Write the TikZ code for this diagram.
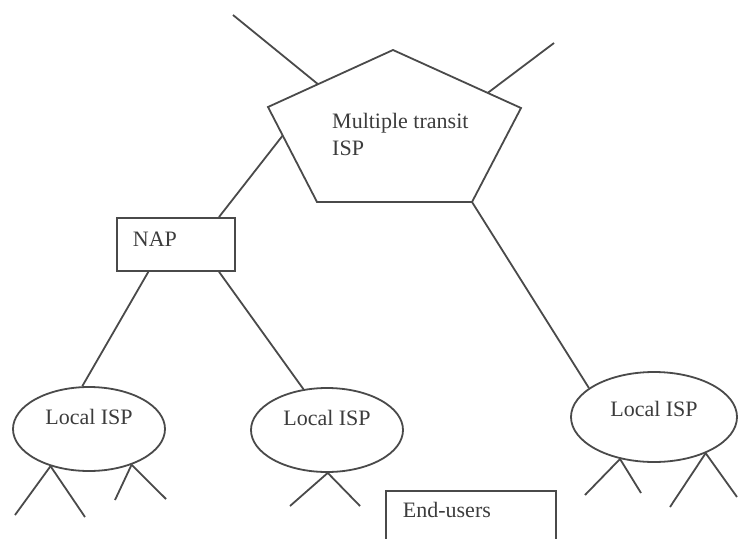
\documentclass[tikz,border=0pt]{standalone}
\usepackage{fontspec}
\setmainfont{Liberation Serif}
\usetikzlibrary{positioning, calc, shapes.geometric}
\definecolor{linegray}{HTML}{4A4A4A}
\definecolor{textgray}{HTML}{3C3C3C}

\begin{document}
\begin{tikzpicture}[x=1pt, y=-1pt, font=\fontsize{22}{27}\selectfont, text=textgray,
  link/.style={draw=linegray, line width=1.8pt},
  isp/.style={ellipse, draw=linegray, line width=1.8pt, inner sep=0pt},
  box/.style={rectangle, draw=linegray, line width=1.8pt, align=left, inner ysep=0pt}]
\clip (0,0) rectangle (738,538);
% transit ISP (pentagon)
\coordinate (t1) at (393,50);
\coordinate (t2) at (521,108);
\coordinate (t3) at (472,202);
\coordinate (t4) at (317,202);
\coordinate (t5) at (268,107);
\draw [link] (t1) -- (t2) -- (t3) -- (t4) -- (t5) -- cycle;
\node [anchor=north west, inner sep=0pt, align=left] (transit) at (332,113) {Multiple transit\\ISP};
% NAP and local ISPs
\node [box, anchor=north west, text width=86pt, inner xsep=16pt, text height=29pt, text depth=24pt] (nap) at (116,217) {NAP};
\node [isp, minimum width=152pt, minimum height=84pt, label={[yshift=12pt]center:Local ISP}] (isp1) at (89,429) {};
\node [isp, minimum width=152pt, minimum height=84pt, label={[yshift=12pt]center:Local ISP}] (isp2) at (327,430) {};
\node [isp, minimum width=166pt, minimum height=90pt, label={[yshift=8pt]center:Local ISP}] (isp3) at (654,417) {};
\node [box, anchor=north west, text width=136pt, inner xsep=17pt, text height=27pt, text depth=45pt] (users) at (385,490) {End-users};
% links
\coordinate (up1) at (233,15);
\coordinate (up2) at (554,43);
\draw [link] ($(t1)!0.6!(t5)$) -- (up1);
\draw [link] ($(t1)!0.74!(t2)$) -- (up2);
\draw [link] ($(t5)!0.3!(t4)$) -- ($(nap.north west)!0.86!(nap.north east)$);
\draw [link] (t3) -- (isp3.156);
\draw [link] ($(nap.south west)!0.27!(nap.south east)$) -- (isp1.99);
\draw [link] ($(nap.south west)!0.86!(nap.south east)$) -- (isp2.120);
% end-user lines
\foreach \n/\x/\y in {e1/15/515, e2/85/517, e3/115/500, e4/166/499, e5/290/506,
  e6/360/506, e7/585/495, e8/641/493, e9/670/507, e10/737/497}
  \coordinate (\n) at (\x,\y);
\foreach \s/\a/\e in {isp1/224/e1, isp1/224/e2, isp1/320/e3, isp1/320/e4, isp2/271/e5,
  isp2/271/e6, isp3/231/e7, isp3/231/e8, isp3/325/e9, isp3/325/e10}
  \draw [link] (\s.\a) -- (\e);
\end{tikzpicture}
\end{document}
